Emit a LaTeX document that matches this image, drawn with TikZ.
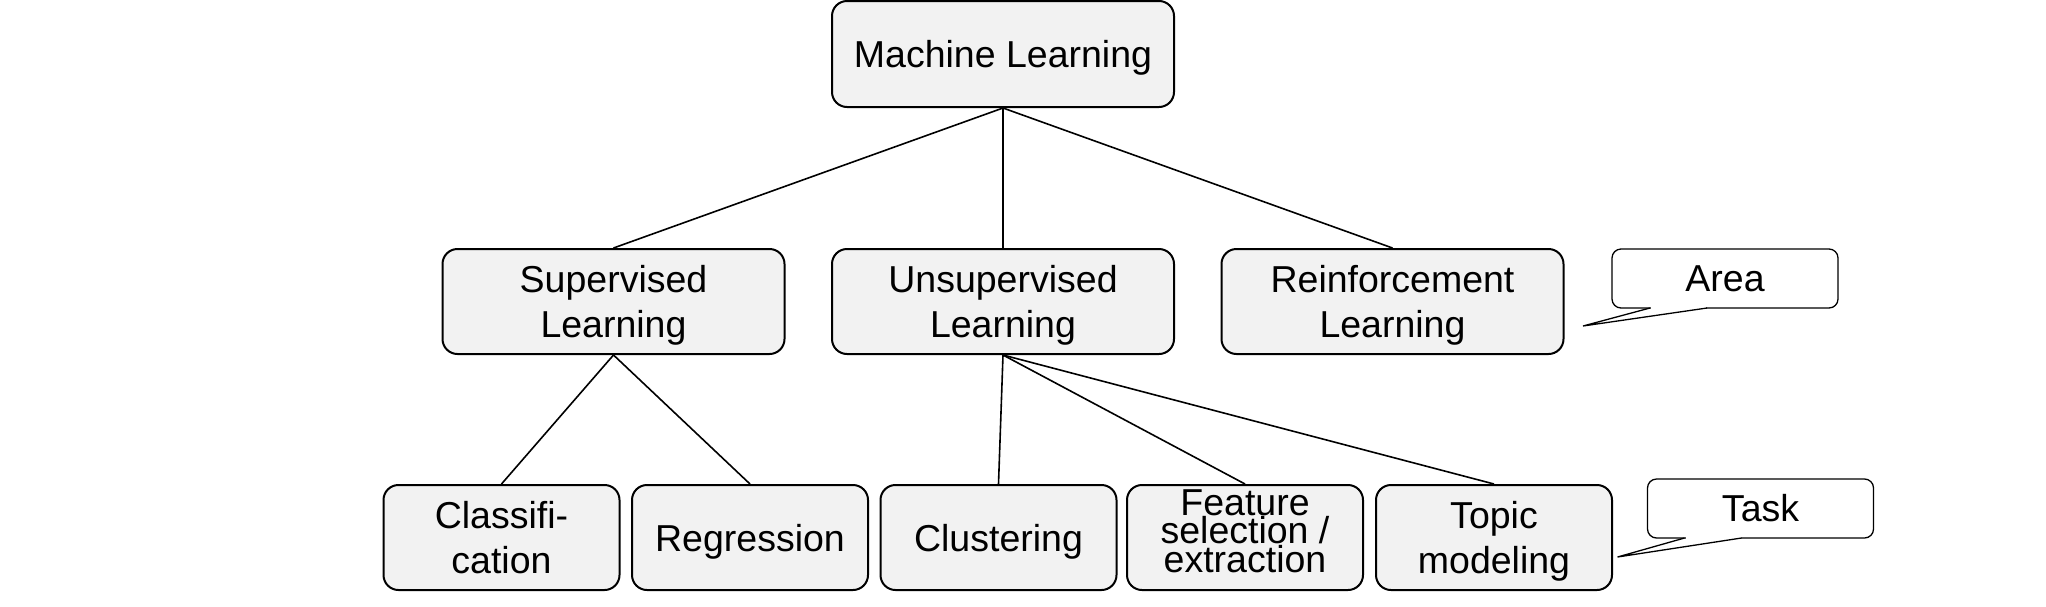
\documentclass[tikz,border=0pt]{standalone}
\usepackage{fontspec}
\setmainfont{Liberation Sans}
\usetikzlibrary{calc}
\definecolor{boxgray}{HTML}{F2F2F2}
\begin{document}
\begin{tikzpicture}[x=1pt,y=1pt,
  box/.style={draw, line width=2pt, fill=boxgray, rounded corners=15pt, align=center,
    inner sep=0pt, text depth=0pt, font=\fontsize{37.5}{44.5}\selectfont},
  topbox/.style={box, minimum width=342pt, minimum height=106pt},
  midbox/.style={box, minimum width=342pt, minimum height=105pt},
  lowbox/.style={box, minimum width=236pt, minimum height=105pt},
  callout/.style={draw, line width=1.3pt, fill=white, rounded corners=9pt, outer sep=0pt,
    inner sep=0pt, minimum width=226pt, minimum height=59pt, font=\fontsize{37.5}{44.5}\selectfont},
  link/.style={line width=1.6pt},
  tail/.style={line width=1.3pt, line join=miter}]
\useasboundingbox (0,0) rectangle (2046,-606);

\node[topbox] (ml) at (1003,-54) {Machine Learning};

\node[midbox] (sup) at (613.5,-301.5) {Supervised\\Learning};
\node[midbox] (uns) at (1003,-301.5) {Unsupervised\\Learning};
\node[midbox] (rei) at (1392.5,-301.5) {Reinforcement\\Learning};

\node[lowbox] (cla) at (501.5,-537.5) {Classifi-\\cation};
\node[lowbox] (reg) at (750,-537.5) {Regression};
\node[lowbox] (clu) at (998.5,-537.5) {Clustering};
\node[lowbox, font=\fontsize{37.5}{28.7}\selectfont, text depth=13pt] (fea) at (1245,-537.5) {Feature\\selection /\\extraction};
\node[lowbox] (top) at (1494,-537.5) {Topic\\modeling};

\draw[link] (ml.south) -- (sup.north);
\draw[link] (ml.south) -- (uns.north);
\draw[link] (ml.south) -- (rei.north);
\draw[link] (sup.south) -- (cla.north);
\draw[link] (sup.south) -- (reg.north);
\draw[link] (uns.south) -- (clu.north);
\draw[link] (uns.south) -- (fea.north);
\draw[link] (uns.south) -- (top.north);

\node[callout] (area) at (1725,-278.5) {Area};
\fill[white] ($(area.south west)+(39,2)$) rectangle ($(area.south west)+(94,-2)$);
\draw[tail] ($(area.south west)+(38,0)$) -- ($(area.south west)+(-29,-18)$) -- ($(area.south west)+(95,0)$);

\node[callout] (task) at (1760.5,-508.5) {Task};
\fill[white] ($(task.south west)+(38,2)$) rectangle ($(task.south west)+(93,-2)$);
\draw[tail] ($(task.south west)+(37,0)$) -- ($(task.south west)+(-30,-19)$) -- ($(task.south west)+(94,0)$);
\end{tikzpicture}
\end{document}
